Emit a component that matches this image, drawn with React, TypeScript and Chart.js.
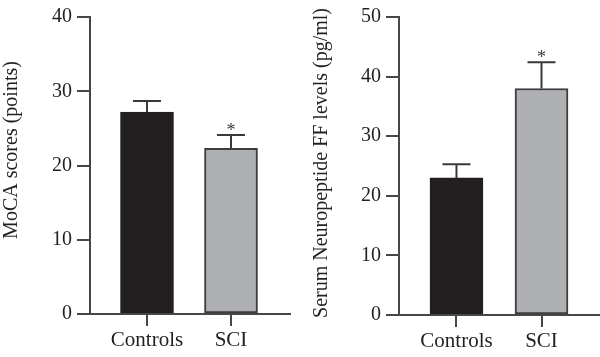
import React, { useEffect, useRef } from 'react';
import { Chart, registerables } from 'chart.js';

Chart.register(...registerables);

// ---- Data ----
const categories = ['Controls', 'SCI'];
const mocaMeans = [27.2, 22.3];
const mocaErrors = [1.5, 1.8];
const npffMeans = [23.0, 38.0];
const npffErrors = [2.3, 4.4];
const significant = [false, true];
const mocaTitle = 'MoCA scores (points)';
const npffTitle = 'Serum Neuropeptide FF levels (pg/ml)';

const FONT = "'Liberation Serif', 'Times New Roman', serif";
const AXIS = '#474747';
const TEXT = '#231f20';
const FILLS = ['#231f20', '#aeb0b3'];
const BORDERS = ['#231f20', '#3d3d3d'];

type PanelCfg = {
  yMax: number;
  yWidth: number;
  top: number;
  right: number;
  xHeight: number;
  xMin: number;
  xMax: number;
  titleX: number;
  titleY: number;
};

function BarPanel({ means, errors, title, cfg }: { means: number[]; errors: number[]; title: string; cfg: PanelCfg }) {
  const ref = useRef<HTMLCanvasElement | null>(null);
  useEffect(() => {
    if (!ref.current) return;
    const errorPlugin = {
      id: 'errorBars',
      afterDatasetsDraw(chart: any) {
        const ctx = chart.ctx;
        const ys = chart.scales.y;
        const meta = chart.getDatasetMeta(0);
        ctx.save();
        meta.data.forEach((bar: any, i: number) => {
          const x = bar.x;
          const yb = bar.y;
          const yt = ys.getPixelForValue(means[i] + errors[i]);
          ctx.strokeStyle = '#3a3a3a';
          ctx.lineWidth = 2;
          ctx.beginPath();
          ctx.moveTo(x, yb);
          ctx.lineTo(x, yt);
          ctx.moveTo(x - 14, yt);
          ctx.lineTo(x + 14, yt);
          ctx.stroke();
          if (significant[i]) {
            ctx.fillStyle = '#3a3a3a';
            ctx.font = `18px ${FONT}`;
            ctx.textAlign = 'center';
            ctx.textBaseline = 'alphabetic';
            ctx.fillText('*', x, yt + 1);
          }
        });
        ctx.restore();
      },
    };
    const titlePlugin = {
      id: 'yTitle',
      afterDraw(chart: any) {
        const ctx = chart.ctx;
        ctx.save();
        ctx.translate(cfg.titleX, cfg.titleY);
        ctx.rotate(-Math.PI / 2);
        ctx.font = `20px ${FONT}`;
        ctx.fillStyle = TEXT;
        ctx.textAlign = 'center';
        ctx.textBaseline = 'middle';
        ctx.fillText(title, 0, 0);
        ctx.restore();
      },
    };
    const chart = new Chart(ref.current, {
      type: 'bar',
      data: {
        datasets: [
          {
            data: means.map((v, i) => ({ x: i, y: v })) as any,
            backgroundColor: FILLS,
            borderColor: BORDERS,
            borderWidth: 2,
            borderSkipped: false,
            barThickness: 53,
            grouped: false,
          },
        ],
      },
      options: {
        animation: false,
        responsive: false,
        devicePixelRatio: 1,
        layout: { padding: { top: cfg.top, right: cfg.right, left: 0, bottom: 0 } },
        plugins: { legend: { display: false }, tooltip: { enabled: false } },
        scales: {
          x: {
            type: 'linear',
            min: cfg.xMin,
            max: cfg.xMax,
            bounds: 'data',
            offset: false,
            afterBuildTicks: (s: any) => {
              s.ticks = categories.map((_, i) => ({ value: i }));
            },
            afterFit: (s: any) => {
              s.height = cfg.xHeight;
            },
            ticks: {
              callback: (v: any) => categories[v] ?? '',
              font: { family: FONT, size: 21 },
              color: TEXT,
              padding: 2,
              maxRotation: 0,
              autoSkip: false,
            },
            grid: { offset: false, drawOnChartArea: false, drawTicks: true, tickLength: 12, color: AXIS, lineWidth: 2 },
            border: { color: AXIS, width: 2 },
          },
          y: {
            min: 0,
            max: cfg.yMax,
            afterFit: (s: any) => {
              s.width = cfg.yWidth;
            },
            ticks: {
              stepSize: 10,
              font: { family: FONT, size: 20 },
              color: TEXT,
              padding: 5,
            },
            grid: { drawOnChartArea: false, drawTicks: true, tickLength: 13, color: AXIS, lineWidth: 2 },
            border: { color: AXIS, width: 2 },
          },
        },
      } as any,
      plugins: [errorPlugin, titlePlugin],
    });
    return () => chart.destroy();
  }, []);
  return (
    <div style={{ width: 300, height: 357, position: 'relative' }}>
      <canvas ref={ref} width={300} height={357} />
    </div>
  );
}

export default function App() {
  return (
    <div style={{ position: 'absolute', left: 0, top: 0, width: 600, height: 357, display: 'flex', background: '#fff' }}>
      <BarPanel
        means={mocaMeans}
        errors={mocaErrors}
        title={mocaTitle}
        cfg={{ yMax: 40, yWidth: 90, top: 17, right: 10, xHeight: 43, xMin: -0.6786, xMax: 1.7024, titleX: 12, titleY: 150 }}
      />
      <BarPanel
        means={npffMeans}
        errors={npffErrors}
        title={npffTitle}
        cfg={{ yMax: 50, yWidth: 99, top: 17, right: 0, xHeight: 42, xMin: -0.676, xMax: 1.688, titleX: 22, titleY: 163 }}
      />
    </div>
  );
}
